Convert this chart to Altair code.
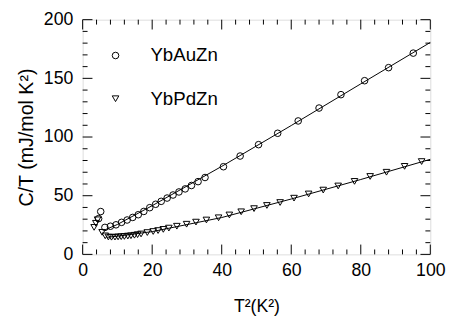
import altair as alt
import pandas as pd

# --- data ---
au_x = [4.6, 5.2, 6.4, 8.0, 9.6, 11.2, 12.8, 14.4, 16.0, 17.6, 19.3, 21.0, 22.6, 24.3,
        26.0, 27.7, 29.5, 31.3, 33.2, 35.2, 40.5, 45.3, 50.6, 56.1, 62.0, 68.0, 74.3,
        81.1, 88.0, 95.1]
au_y = [30.5, 36.5, 23.0, 24.0, 25.2, 27.3, 29.3, 31.5, 33.8, 36.6, 39.8, 42.7, 45.2, 48.0,
        50.6, 53.2, 55.8, 58.7, 62.0, 65.5, 74.7, 83.8, 93.5, 103.2, 113.7, 124.7, 136.1,
        148.0, 159.1, 171.5]

pd_x = [3.3, 3.8, 4.3, 5.6, 6.5, 7.4, 8.3, 9.3, 10.2, 11.1, 12.0, 13.0, 13.9, 14.9, 15.8,
        16.8, 18.6, 20.3, 21.7, 23.2, 24.8, 27.1, 29.9, 32.6, 35.6, 39.1, 42.2, 45.6,
        49.3, 53.0, 56.8, 60.8, 65.0, 69.2, 73.5, 78.2, 82.7, 87.4, 92.6, 97.5]
pd_y = [23.0, 26.5, 29.5, 18.8, 15.8, 14.8, 14.6, 14.7, 14.9, 15.1, 15.3, 15.6, 15.9, 16.3,
        16.8, 17.4, 18.6, 19.5, 20.3, 21.3, 22.4, 24.0, 25.7, 27.5, 29.3, 31.2, 33.6, 36.3,
        39.0, 41.7, 44.2, 47.9, 51.5, 54.8, 58.3, 62.2, 66.4, 70.0, 75.0, 79.1]

# fitted curves
au_fit_x = [6.5, 10, 20, 40, 60, 80, 100]
au_fit_y = [21.0, 25.5, 41.5, 75.0, 109.8, 145.3, 180.6]
pd_fit_x = [7, 10, 20, 40, 60, 80, 100]
pd_fit_y = [14.6, 15.5, 19.4, 31.4, 47.2, 63.8, 81.0]

series = ["YbAuZn", "YbPdZn"]

x_major = [0, 20, 40, 60, 80, 100]
x_minor = [4, 8, 12, 16, 24, 28, 32, 36, 44, 48, 52, 56, 64, 68, 72, 76, 84, 88, 92, 96]
y_major = [0, 50, 100, 150, 200]
y_minor = [10, 20, 30, 40, 60, 70, 80, 90, 110, 120, 130, 140, 160, 170, 180, 190]

W, H = 354, 239
FONT = "Liberation Sans"

pts = pd.DataFrame({
    "x": au_x + pd_x,
    "y": au_y + pd_y,
    "s": [series[0]] * len(au_x) + [series[1]] * len(pd_x),
})
fits = pd.DataFrame({
    "x": au_fit_x + pd_fit_x,
    "y": au_fit_y + pd_fit_y,
    "s": [series[0]] * len(au_fit_x) + [series[1]] * len(pd_fit_x),
})

xs = alt.Scale(domain=[0, 100], nice=False, zero=False)
ys = alt.Scale(domain=[0, 200], nice=False, zero=False)

x_axis = alt.Axis(values=x_major, ticks=False, domain=False, grid=False,
                  labelFontSize=18, labelPadding=7, labelFont=FONT, labelFlush=False,
                  labelColor="black", titleFont=FONT,
                  titleFontSize=18, titleFontWeight="normal",
                  titleColor="black", titlePadding=19)
y_axis = alt.Axis(values=y_major, ticks=False, domain=False, grid=False,
                  labelFontSize=18, labelPadding=10, labelFont=FONT, labelFlush=False,
                  labelColor="black", titleFont=FONT,
                  titleFontSize=20, titleFontWeight="normal",
                  titleColor="black", titlePadding=7)
X_TITLE = "T²(K²)"
Y_TITLE = "C/T (mJ/mol K²)"


def X(field):
    return alt.X(field, scale=xs, axis=x_axis, title=X_TITLE)


def Y(field):
    return alt.Y(field, scale=ys, axis=y_axis, title=Y_TITLE)


lines = alt.Chart(fits).mark_line(color="black", strokeWidth=1).encode(
    x=X("x:Q"), y=Y("y:Q"), detail="s:N")

points = alt.Chart(pts).mark_point(filled=False, color="black", size=45, strokeWidth=1,
                                   opacity=1).encode(
    x=X("x:Q"), y=Y("y:Q"),
    shape=alt.Shape("s:N", scale=alt.Scale(domain=series, range=["circle", "triangle-down"]),
                    legend=alt.Legend(title=None, orient="none", legendX=24, legendY=27,
                                      labelFontSize=19, labelFont=FONT, labelColor="black",
                                      symbolSize=45, symbolStrokeColor="black",
                                      symbolStrokeWidth=1, symbolFillColor="transparent",
                                      labelOffset=26, rowPadding=24, padding=0)),
)


def xticks(vals, length, top):
    df = pd.DataFrame({"x": vals})
    y0 = 0 if top else H
    y1 = length if top else H - length
    return alt.Chart(df).mark_rule(color="black", strokeWidth=1).encode(
        x=X("x:Q"), y=alt.value(y0), y2=alt.value(y1))


def yticks(vals, length, right):
    df = pd.DataFrame({"y": vals})
    x0 = W if right else 0
    x1 = W - length if right else length
    return alt.Chart(df).mark_rule(color="black", strokeWidth=1).encode(
        y=Y("y:Q"), x=alt.value(x0), x2=alt.value(x1))


layers = [lines, points]
for top in (False, True):
    layers.append(xticks(x_major, 10, top))
    layers.append(xticks(x_minor, 5, top))
for right in (False, True):
    layers.append(yticks(y_major, 10, right))
    layers.append(yticks(y_minor, 5, right))

chart = alt.layer(*layers).properties(
    width=W, height=H,
    autosize=alt.AutoSizeParams(type="none"),
    padding={"left": 76, "top": 9, "right": 17, "bottom": 68},
).configure_view(stroke="black", strokeWidth=1.2).configure(background="white")

chart.save("out.html", embed_options={"renderer": "svg", "actions": False})
